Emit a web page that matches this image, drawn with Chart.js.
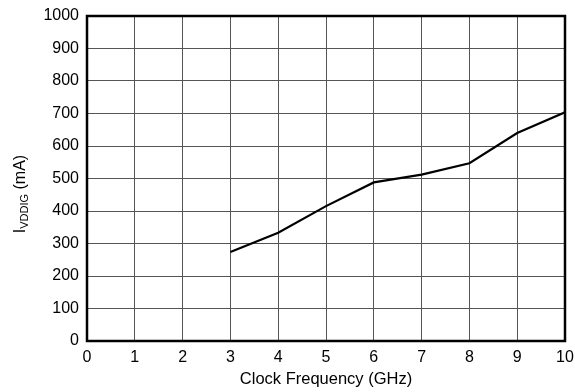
<!DOCTYPE html>
<html>
<head>
<meta charset="utf-8">
<script src="https://cdn.jsdelivr.net/npm/chart.js@4"></script>
<style>
  html, body { margin: 0; padding: 0; background: #fff; }
  #wrap { width: 575px; height: 392px; }
</style>
</head>
<body>
<div id="wrap"><canvas id="chart"></canvas></div>
<script>
'use strict';

// values
const freqGHz = [3, 4, 5, 6, 7, 8, 9, 10];
const currentMA = [274, 333, 415, 488, 512, 547, 640, 704];
const xTicks = [0, 1, 2, 3, 4, 5, 6, 7, 8, 9, 10];
const yTicks = [0, 100, 200, 300, 400, 500, 600, 700, 800, 900, 1000];

const FONT = '"Liberation Sans", Arial, sans-serif';

// y title has a subscript, so draw it by hand
const yTitlePlugin = {
    id: 'yTitle',
    afterDraw: function (chart) {
        let ctx = chart.ctx;
        let main = 'I';
        let sub = 'VDDIG';
        let tail = ' (mA)';
        ctx.save();
        ctx.fillStyle = '#000';
        ctx.textBaseline = 'alphabetic';
        ctx.font = '16px ' + FONT;
        let wMain = ctx.measureText(main).width;
        let wTail = ctx.measureText(tail).width;
        ctx.font = '11px ' + FONT;
        let wSub = ctx.measureText(sub).width;
        let total = wMain + wSub + wTail;
        ctx.translate(25, 194);
        ctx.rotate(-Math.PI / 2);
        let x = -total / 2;
        ctx.font = '16px ' + FONT;
        ctx.fillText(main, x, 0);
        x += wMain;
        ctx.font = '11px ' + FONT;
        ctx.fillText(sub, x, 3);
        x += wSub;
        ctx.font = '16px ' + FONT;
        ctx.fillText(tail, x, 0);
        ctx.restore();
    }
};

// thick black frame around the plot
const framePlugin = {
    id: 'frame',
    afterDatasetsDraw: function (chart) {
        let a = chart.chartArea;
        let ctx = chart.ctx;
        ctx.save();
        ctx.strokeStyle = '#000';
        ctx.lineWidth = 2.5;
        ctx.strokeRect(a.left, a.top, a.right - a.left, a.bottom - a.top);
        ctx.restore();
    }
};

let ctx = document.getElementById('chart').getContext('2d');
window.myLine = new Chart(ctx, {
    type: 'line',
    data: {
        datasets: [{
            data: freqGHz.map((f, i) => ({x: f, y: currentMA[i]})),
            borderColor: '#000',
            borderWidth: 2.2,
            pointRadius: 0,
            tension: 0,
            fill: false,
        }],
    },
    options: {
        responsive: true,
        maintainAspectRatio: false,
        animation: false,
        layout: {padding: {top: 16, right: 10, left: 0, bottom: 0}},
        plugins: {
            legend: {display: false},
            tooltip: {enabled: false},
        },
        scales: {
            x: {
                type: 'linear',
                min: 0,
                max: 10,
                afterBuildTicks: function (scale) {
                    scale.ticks = xTicks.map(v => ({value: v}));
                },
                afterFit: function (scale) {
                    scale.height = 51;
                    scale.paddingRight = 0;
                    scale.paddingLeft = 0;
                },
                grid: {color: '#555', lineWidth: 1, drawTicks: false},
                border: {display: false},
                ticks: {
                    color: '#000',
                    font: {family: FONT, size: 16},
                    padding: 7,
                    maxRotation: 0,
                    callback: v => String(v),
                },
                title: {
                    display: true,
                    text: 'Clock Frequency (GHz)',
                    color: '#000',
                    font: {family: FONT, size: 16.5},
                    padding: {top: 0, bottom: 3},
                },
            },
            y: {
                min: 0,
                max: 1000,
                afterBuildTicks: function (scale) {
                    scale.ticks = yTicks.map(v => ({value: v}));
                },
                afterFit: function (scale) {
                    scale.width = 87;
                    scale.paddingTop = 0;
                    scale.paddingBottom = 0;
                },
                grid: {color: '#555', lineWidth: 1, drawTicks: false},
                border: {display: false},
                ticks: {
                    color: '#000',
                    font: {family: FONT, size: 16},
                    padding: 8,
                    callback: v => String(v),
                },
            },
        },
    },
    plugins: [yTitlePlugin, framePlugin],
});
</script>
</body>
</html>
